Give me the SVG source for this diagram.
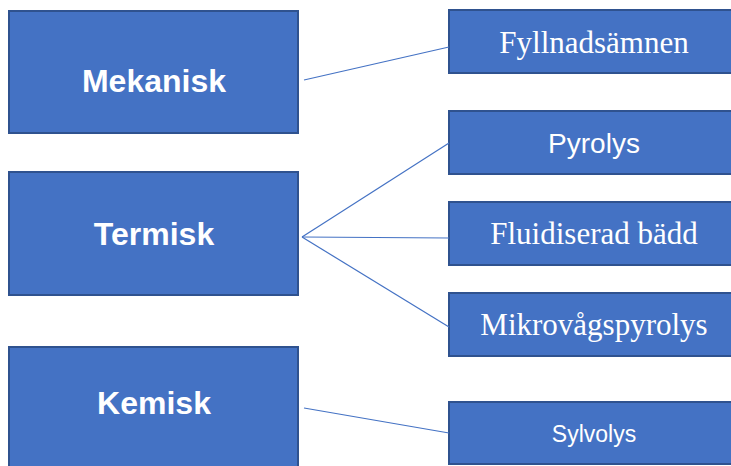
<svg xmlns="http://www.w3.org/2000/svg" width="731" height="466" viewBox="0 0 731 466">
<style>
.box{fill:#4472C4;stroke:#2F528F;stroke-width:2}
.lt{font-family:"Liberation Sans",Arial,sans-serif;font-weight:bold;font-size:32px;fill:#fff;text-anchor:middle}
.rs{font-family:"Liberation Serif","Times New Roman",serif;font-size:31px;fill:#fff;text-anchor:middle}
.rn{font-family:"Liberation Sans",Arial,sans-serif;fill:#fff;text-anchor:middle}
.con line{stroke:#4472C4;stroke-width:1.2;fill:none}
</style>
<rect width="731" height="466" fill="#fff"/>
<g id="mekanisk"><rect class="box" x="9" y="11" width="289" height="122"/><text class="lt" x="154" y="92">Mekanisk</text></g>
<g id="termisk"><rect class="box" x="9" y="172" width="289" height="123"/><text class="lt" x="154" y="245">Termisk</text></g>
<g id="kemisk"><rect class="box" x="9" y="347" width="289" height="130"/><text class="lt" x="154" y="414">Kemisk</text></g>
<g id="fyllnad"><rect class="box" x="449" y="10" width="300" height="63"/><text class="rs" x="594" y="53">Fyllnadsämnen</text></g>
<g id="pyrolys"><rect class="box" x="449" y="111" width="300" height="63"/><text class="rn" x="594" y="153" font-size="28">Pyrolys</text></g>
<g id="fluid"><rect class="box" x="449" y="202" width="300" height="63"/><text class="rs" x="594" y="244">Fluidiserad bädd</text></g>
<g id="mikro"><rect class="box" x="449" y="293" width="300" height="63"/><text class="rs" x="594" y="335" font-size="32.5">Mikrovågspyrolys</text></g>
<g id="sylvolys"><rect class="box" x="449" y="402" width="300" height="62"/><text class="rn" x="594" y="442" font-size="23">Sylvolys</text></g>
<g class="con" id="connectors">
<line x1="304" y1="80" x2="449" y2="47"/>
<line x1="302" y1="237" x2="449" y2="143"/>
<line x1="302" y1="237" x2="449" y2="238"/>
<line x1="302" y1="237" x2="449" y2="327"/>
<line x1="304" y1="408" x2="449" y2="433"/>
</g>
</svg>
